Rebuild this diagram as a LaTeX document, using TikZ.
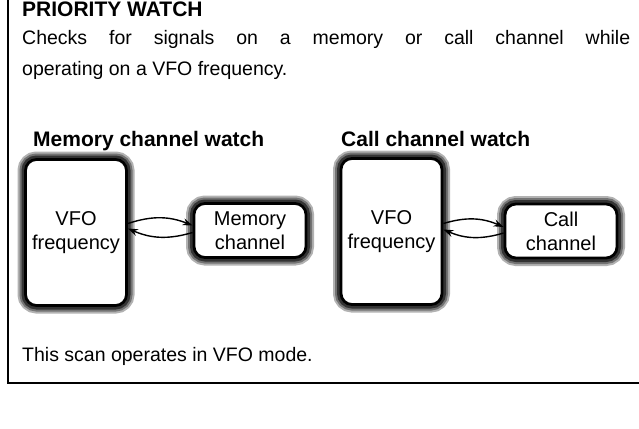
\documentclass[tikz,border=0pt]{standalone}
\usepackage{fontspec}
\setmainfont{Liberation Sans}
\usetikzlibrary{arrows.meta}

\begin{document}
\begin{tikzpicture}[
    x=1pt, y=-1pt,
    >={Stealth[length=10pt, width=7pt]},
    chbox/.style={draw, line width=2.8pt, rounded corners=11pt, fill=white,
        align=center, inner sep=0pt, font=\fontsize{20}{24}\selectfont,
        preaction={draw=black!30, line width=16pt},
        preaction={draw=black!55, line width=12pt},
        preaction={draw=black!80, line width=8pt}},
    vfobox/.style={chbox, minimum width=101pt, minimum height=146pt},
    chanbox/.style={chbox, minimum width=112pt, minimum height=54pt},
    swap/.style={->, line width=1.4pt},
    bodytext/.style={anchor=base west, inner sep=0pt, font=\fontsize{19.5}{23}\selectfont},
    headtext/.style={anchor=base west, inner sep=0pt, font=\fontsize{21}{25}\selectfont\bfseries},
]
\useasboundingbox (0,0) rectangle (639,428);

% === Frame ===
\draw[line width=1.4pt] (8,0) -- (8,383) -- (639,383);

% === Heading and description ===
\node[headtext] (title) at (22,17) {PRIORITY WATCH};
\node[bodytext] (line1) at (22,45) {\makebox[608pt][s]{Checks for signals on a memory or call channel while}};
\node[bodytext] (line2) at (22,75) {operating on a VFO frequency.};

% === Memory channel watch ===
\node[headtext] (memhead) at (33,146) {Memory channel watch};
\node[vfobox] (vfoA) at (76,232.5) {VFO\\frequency};
\node[chanbox] (memA) at (250,230.5) {Memory\\channel};
\draw[swap] ([yshift=9pt]vfoA.east) to[bend left=20] ([yshift=5pt]memA.west);
\draw[swap] ([yshift=-2pt]memA.west) to[bend left=20] ([yshift=4pt]vfoA.east);

% === Call channel watch ===
\node[headtext] (callhead) at (341,146) {Call channel watch};
\node[vfobox] (vfoB) at (391.5,231.5) {VFO\\frequency};
\node[chanbox] (callB) at (561,231) {Call\\channel};
\draw[swap] ([yshift=8pt]vfoB.east) to[bend left=20] ([yshift=4pt]callB.west);
\draw[swap] ([yshift=-2pt]callB.west) to[bend left=20] ([yshift=2pt]vfoB.east);

% === Footer note ===
\node[bodytext] (note) at (22,361) {This scan operates in VFO mode.};

\end{tikzpicture}
\end{document}
